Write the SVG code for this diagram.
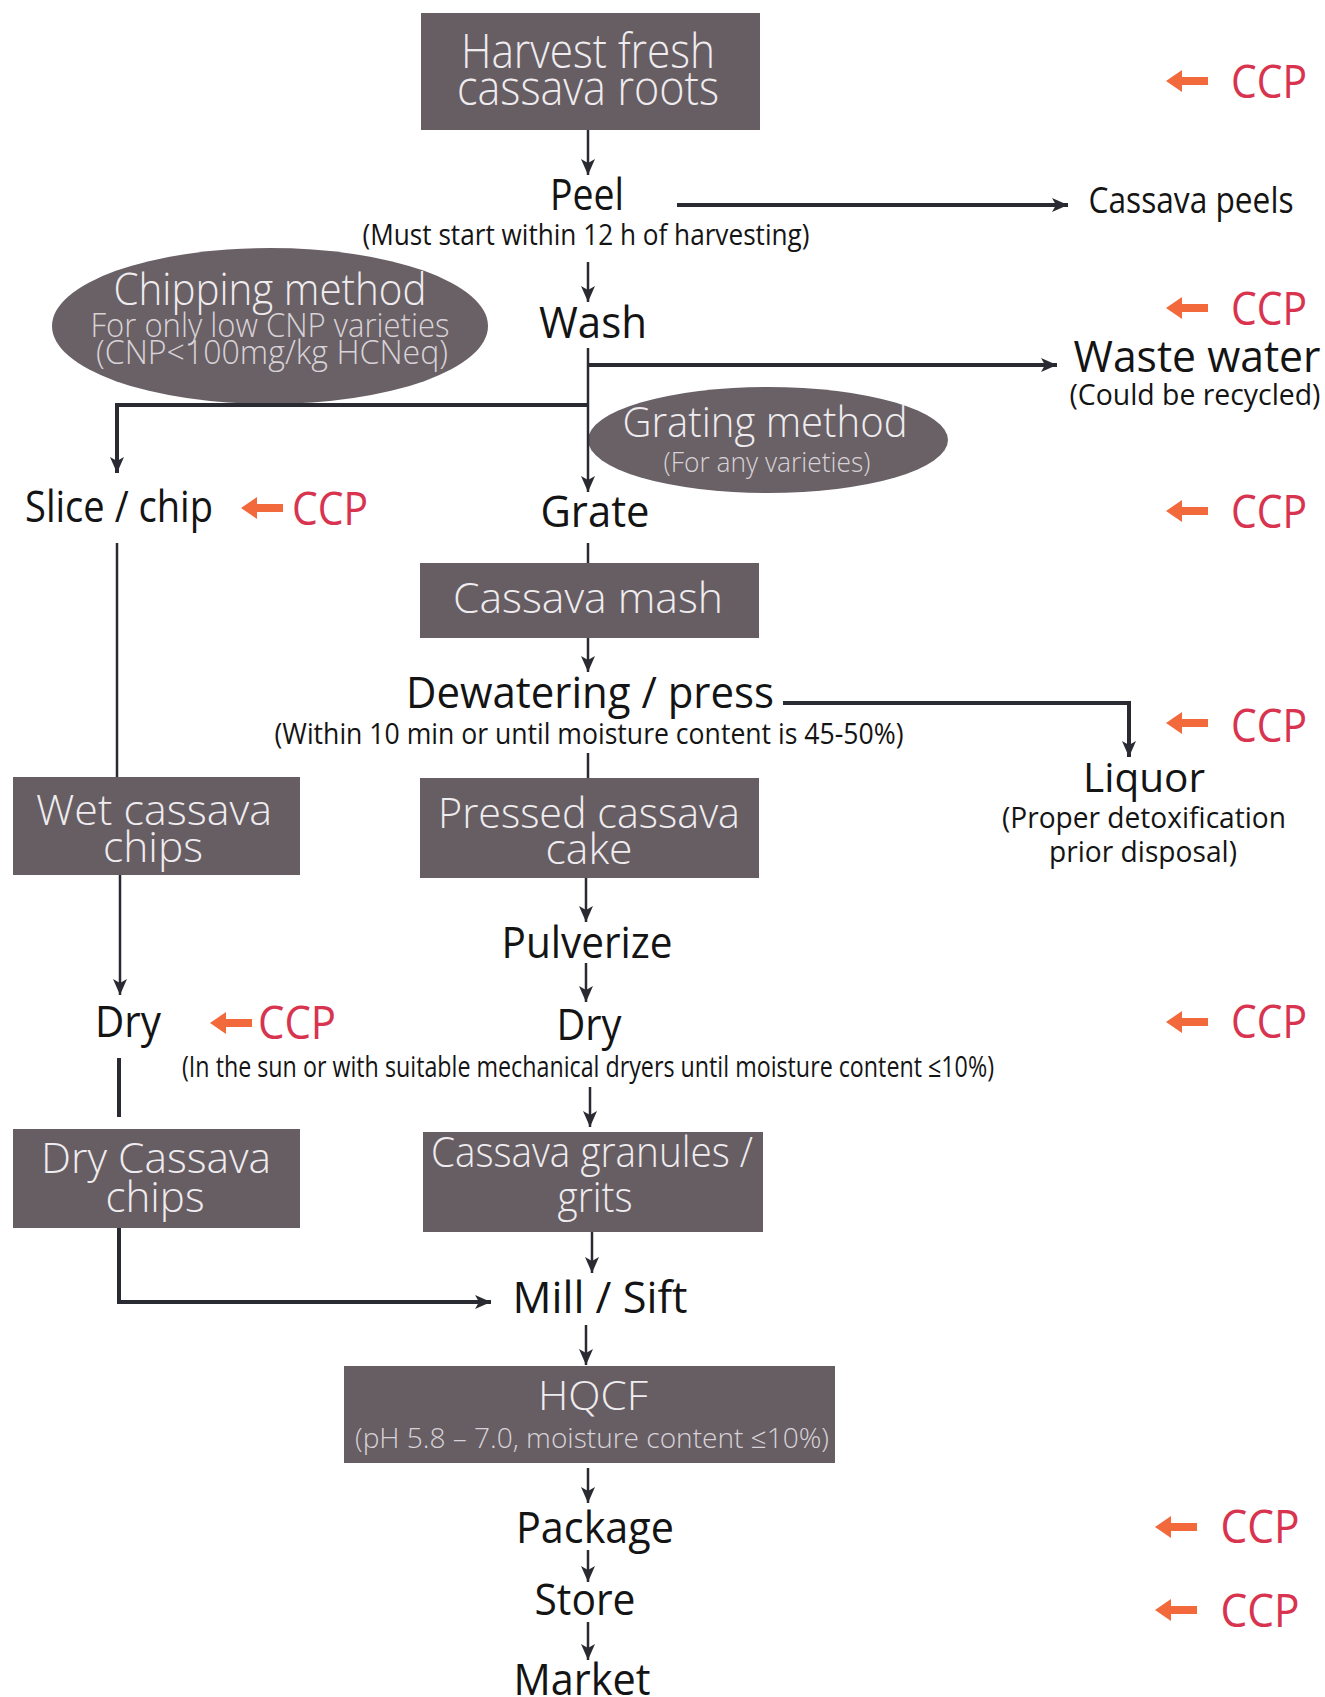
<svg xmlns="http://www.w3.org/2000/svg" xmlns:xlink="http://www.w3.org/1999/xlink" width="1325" height="1697" viewBox="0 0 1325 1697">
<style>
text{font-family:"Open Sans","Liberation Sans",sans-serif;text-anchor:middle}
.t{font-size:44px;fill:#141414}
.s{font-size:29px;fill:#141414}
.w{font-size:44px;fill:#efecef;font-weight:300}
.ws{font-size:29px;fill:#d8d3d8;font-weight:300}
.ccp{font-size:46px;fill:#d8344f}
.box{fill:#675e64}
.ell{fill:#6a6166}
.ln{fill:none;stroke:#2a2a33;stroke-width:2.5}
.lb{fill:none;stroke:#2a2a33;stroke-width:4}
.oa{fill:#f26a3c}
</style>
<defs>
<marker id="ah" markerUnits="userSpaceOnUse" markerWidth="20" markerHeight="16" refX="16" refY="7" orient="auto">
<path d="M0,0 L16,7 L0,14 L4,7 Z" fill="#2a2a33"/>
</marker>
<path id="ccpArrow" d="M0,0 L16,-11 L16,-4 L42,-4 L42,4 L16,4 L16,11 Z"/>
</defs>
<rect width="1325" height="1697" fill="#ffffff"/>

<g id="chipping-method"><ellipse class="ell" cx="270" cy="326" rx="218" ry="78"/>
<text class="w" x="270" y="305" textLength="313" lengthAdjust="spacingAndGlyphs">Chipping method</text>
<text class="ws" x="270" y="337" font-size="33" style="font-size:33px" textLength="359" lengthAdjust="spacingAndGlyphs">For only low CNP varieties</text>
<text class="ws" x="272" y="364" style="font-size:33px" textLength="352" lengthAdjust="spacingAndGlyphs">(CNP&lt;100mg/kg HCNeq)</text></g>
<g id="grating-method"><ellipse class="ell" cx="768" cy="440" rx="180" ry="53"/>
<text class="w" x="765" y="437" style="font-size:43px" textLength="285" lengthAdjust="spacingAndGlyphs">Grating method</text>
<text class="ws" x="767" y="472" style="font-size:28px" textLength="207" lengthAdjust="spacingAndGlyphs">(For any varieties)</text></g>

<g id="connectors">
<path class="ln" d="M588,130 V175" marker-end="url(#ah)"/>
<path class="lb" d="M677,205 H1068" marker-end="url(#ah)"/>
<path class="ln" d="M588,262 V302" marker-end="url(#ah)"/>
<path class="ln" d="M588,348 V492" marker-end="url(#ah)"/>
<path class="lb" d="M588,365 H1057" marker-end="url(#ah)"/>
<path class="lb" d="M588,405 H117 V473" marker-end="url(#ah)"/>
<path class="ln" d="M117,543 V777"/>
<path class="ln" d="M588,543 V563"/>
<path class="ln" d="M588,638 V672" marker-end="url(#ah)"/>
<path class="lb" d="M783,703 H1129 V757" marker-end="url(#ah)"/>
<path class="ln" d="M588,753 V778"/>
<path class="ln" d="M120,875 V995" marker-end="url(#ah)"/>
<path class="lb" d="M119,1058 V1117"/>
<path class="ln" d="M586,878 V922" marker-end="url(#ah)"/>
<path class="ln" d="M586,963 V1002" marker-end="url(#ah)"/>
<path class="ln" d="M590,1087 V1127" marker-end="url(#ah)"/>
<path class="ln" d="M592,1232 V1273" marker-end="url(#ah)"/>
<path class="lb" d="M119,1228 V1302 H491" marker-end="url(#ah)"/>
<path class="ln" d="M586,1325 V1365" marker-end="url(#ah)"/>
<path class="ln" d="M588,1468 V1503" marker-end="url(#ah)"/>
<path class="ln" d="M588,1550 V1582" marker-end="url(#ah)"/>
<path class="ln" d="M588,1622 V1660" marker-end="url(#ah)"/>
</g>

<g id="harvest"><rect class="box" x="421" y="13" width="339" height="117"/>
<text class="w" x="588" y="68" style="font-size:48px" textLength="254" lengthAdjust="spacingAndGlyphs">Harvest fresh</text>
<text class="w" x="588" y="105" style="font-size:48px" textLength="262" lengthAdjust="spacingAndGlyphs">cassava roots</text></g>

<g id="peel"><text class="t" x="587" y="210" textLength="74" lengthAdjust="spacingAndGlyphs">Peel</text>
<text class="s" x="586" y="245" textLength="447" lengthAdjust="spacingAndGlyphs">(Must start within 12 h of harvesting)</text></g>
<g id="cassava-peels"><text class="t" x="1191" y="213" style="font-size:36px" textLength="205" lengthAdjust="spacingAndGlyphs">Cassava peels</text></g>
<g id="wash"><text class="t" x="593" y="338" textLength="108" lengthAdjust="spacingAndGlyphs">Wash</text></g>
<g id="waste-water"><text class="t" x="1197" y="372" style="font-size:43px" textLength="247" lengthAdjust="spacingAndGlyphs">Waste water</text>
<text class="s" x="1195" y="405" textLength="251" lengthAdjust="spacingAndGlyphs">(Could be recycled)</text></g>
<g id="slice-chip"><text class="t" x="119" y="522" textLength="188" lengthAdjust="spacingAndGlyphs">Slice / chip</text></g>
<g id="grate"><text class="t" x="595" y="527" textLength="109" lengthAdjust="spacingAndGlyphs">Grate</text></g>
<g id="cassava-mash"><rect class="box" x="420" y="563" width="339" height="75"/>
<text class="w" x="588" y="613" style="font-size:43px" textLength="270" lengthAdjust="spacingAndGlyphs">Cassava mash</text></g>
<g id="dewatering"><text class="t" x="590" y="708" textLength="368" lengthAdjust="spacingAndGlyphs">Dewatering / press</text>
<text class="s" x="589" y="744" textLength="629" lengthAdjust="spacingAndGlyphs">(Within 10 min or until moisture content is 45-50%)</text></g>
<g id="liquor"><text class="t" x="1144" y="792" style="font-size:40px" textLength="122" lengthAdjust="spacingAndGlyphs">Liquor</text>
<text class="s" x="1144" y="828" textLength="284" lengthAdjust="spacingAndGlyphs">(Proper detoxification</text>
<text class="s" x="1143" y="862" textLength="188" lengthAdjust="spacingAndGlyphs">prior disposal)</text></g>
<g id="wet-chips"><rect class="box" x="13" y="777" width="287" height="98"/>
<text class="w" x="154" y="825" style="font-size:43px" textLength="236" lengthAdjust="spacingAndGlyphs">Wet cassava</text>
<text class="w" x="153" y="862" style="font-size:43px" textLength="100" lengthAdjust="spacingAndGlyphs">chips</text></g>
<g id="pressed-cake"><rect class="box" x="420" y="778" width="339" height="100"/>
<text class="w" x="589" y="828" style="font-size:43px" textLength="302" lengthAdjust="spacingAndGlyphs">Pressed cassava</text>
<text class="w" x="589" y="864" style="font-size:43px" textLength="87" lengthAdjust="spacingAndGlyphs">cake</text></g>
<g id="pulverize"><text class="t" x="587" y="958" textLength="171" lengthAdjust="spacingAndGlyphs">Pulverize</text></g>
<g id="dry-left"><text class="t" x="128" y="1037" textLength="66" lengthAdjust="spacingAndGlyphs">Dry</text></g>
<g id="dry-mid"><text class="t" x="589" y="1040" textLength="65" lengthAdjust="spacingAndGlyphs">Dry</text>
<text class="s" x="588" y="1077" textLength="812" lengthAdjust="spacingAndGlyphs">(In the sun or with suitable mechanical dryers until moisture content ≤10%)</text></g>
<g id="dry-chips"><rect class="box" x="13" y="1129" width="287" height="99"/>
<text class="w" x="156" y="1173" style="font-size:43px" textLength="230" lengthAdjust="spacingAndGlyphs">Dry Cassava</text>
<text class="w" x="155" y="1212" style="font-size:43px" textLength="99" lengthAdjust="spacingAndGlyphs">chips</text></g>
<g id="granules"><rect class="box" x="423" y="1132" width="340" height="100"/>
<text class="w" x="592" y="1167" style="font-size:43px" textLength="322" lengthAdjust="spacingAndGlyphs">Cassava granules /</text>
<text class="w" x="595" y="1212" style="font-size:43px" textLength="75" lengthAdjust="spacingAndGlyphs">grits</text></g>
<g id="mill-sift"><text class="t" x="600" y="1313" textLength="175" lengthAdjust="spacingAndGlyphs">Mill / Sift</text></g>
<g id="hqcf"><rect class="box" x="344" y="1366" width="491" height="97"/>
<text class="w" x="593" y="1410" style="font-size:40px" textLength="110" lengthAdjust="spacingAndGlyphs">HQCF</text>
<text class="ws" x="592" y="1448" style="font-size:28px" textLength="474" lengthAdjust="spacingAndGlyphs">(pH 5.8 – 7.0, moisture content ≤10%)</text></g>
<g id="package"><text class="t" x="595" y="1543" textLength="158" lengthAdjust="spacingAndGlyphs">Package</text></g>
<g id="store"><text class="t" x="585" y="1615" textLength="101" lengthAdjust="spacingAndGlyphs">Store</text></g>
<g id="market"><text class="t" x="582" y="1695" textLength="137" lengthAdjust="spacingAndGlyphs">Market</text></g>

<g id="ccp-marks">
<use xlink:href="#ccpArrow" class="oa" x="1166" y="81"/><text class="ccp" x="1269" y="98" textLength="76" lengthAdjust="spacingAndGlyphs">CCP</text>
<use xlink:href="#ccpArrow" class="oa" x="1166" y="308"/><text class="ccp" x="1269" y="325" textLength="76" lengthAdjust="spacingAndGlyphs">CCP</text>
<use xlink:href="#ccpArrow" class="oa" x="1166" y="511"/><text class="ccp" x="1269" y="528" textLength="76" lengthAdjust="spacingAndGlyphs">CCP</text>
<use xlink:href="#ccpArrow" class="oa" x="1166" y="723"/><text class="ccp" x="1269" y="742" textLength="76" lengthAdjust="spacingAndGlyphs">CCP</text>
<use xlink:href="#ccpArrow" class="oa" x="1166" y="1022"/><text class="ccp" x="1269" y="1038" textLength="76" lengthAdjust="spacingAndGlyphs">CCP</text>
<use xlink:href="#ccpArrow" class="oa" x="1155" y="1527"/><text class="ccp" x="1260" y="1543" textLength="79" lengthAdjust="spacingAndGlyphs">CCP</text>
<use xlink:href="#ccpArrow" class="oa" x="1155" y="1610"/><text class="ccp" x="1260" y="1627" textLength="79" lengthAdjust="spacingAndGlyphs">CCP</text>
<use xlink:href="#ccpArrow" class="oa" x="241" y="508"/><text class="ccp" x="330" y="525" textLength="76" lengthAdjust="spacingAndGlyphs">CCP</text>
<use xlink:href="#ccpArrow" class="oa" x="210" y="1023"/><text class="ccp" x="297" y="1039" textLength="78" lengthAdjust="spacingAndGlyphs">CCP</text>
</g>
</svg>
